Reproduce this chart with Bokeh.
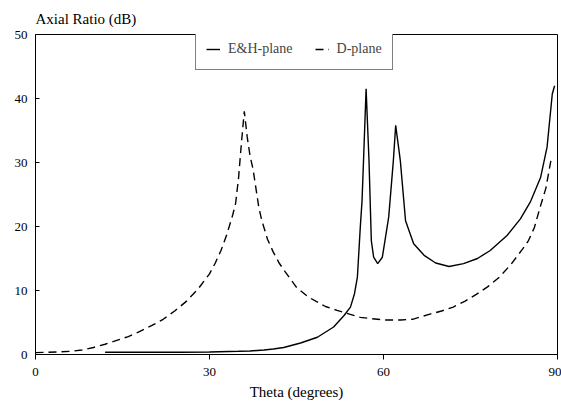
from bokeh.plotting import figure
from bokeh.models import Legend, LegendItem, Title, FixedTicker, Range1d
from bokeh.embed import file_html
from bokeh.resources import INLINE

# E&H-plane (solid)
eh_theta = [12, 15, 20, 25, 30, 35, 37, 39.4, 41, 42.8, 45.7, 48.6, 51.4, 53.2, 54.3, 55.0, 55.5, 56.0, 56.3, 56.6, 57.0,
            57.5, 57.9, 58.3, 59.0, 59.8, 60.9, 61.7, 62.1, 62.9, 63.8, 65.2, 67.0, 69.0, 71.3, 73.8, 76.2, 78.4,
            81.3, 83.6, 85.3, 87.1, 88.2, 89.1, 89.5]
eh_value = [0.35, 0.35, 0.35, 0.35, 0.4, 0.5, 0.55, 0.7, 0.85, 1.1, 1.8, 2.7, 4.3, 6.1, 7.4, 9.5, 12.1, 19.9, 24.0, 31.4, 41.5,
            30.3, 17.8, 15.2, 14.2, 15.2, 21.5, 30.3, 35.8, 30.3, 20.9, 17.3, 15.5, 14.3, 13.75, 14.2, 15.0, 16.25,
            18.6, 21.2, 23.8, 27.7, 32.4, 40.7, 42.0]

# D-plane (dashed)
d_theta = [0, 2, 4, 6, 8, 10, 12, 14, 16, 18, 20, 22, 24, 26, 28, 30, 31, 32, 33, 34, 34.5, 35, 35.5, 36,
           36.5, 37, 37.5, 38, 38.5, 39, 40, 41, 42, 43, 45, 47, 50, 52, 56, 60, 63, 65, 68, 70, 72, 74, 76,
           78, 80, 82, 84, 85, 86, 87, 88, 88.5, 89]
d_value = [0.3, 0.35, 0.4, 0.5, 0.7, 1.1, 1.6, 2.2, 2.8, 3.6, 4.5, 5.5, 6.8, 8.3, 10.2, 12.6, 14.3, 16.3, 18.8, 21.8, 23.6, 27.5, 33.0, 38.0,
           34.0, 31.0, 29.0, 26.0, 23.0, 21.0, 18.0, 16.0, 14.3, 13.0, 10.5, 9.0, 7.5, 6.9, 5.8, 5.4, 5.4, 5.5, 6.3, 6.8, 7.4, 8.3, 9.4,
           10.6, 12.1, 14.1, 16.5, 17.8, 19.8, 23.0, 26.0, 28.5, 31.0]

x_ticks = [0, 30, 60, 90]
y_ticks = [0, 10, 20, 30, 40, 50]
FONT = "Liberation Serif"

p = figure(width=561, height=412, output_backend="svg", toolbar_location=None,
           x_range=Range1d(0, 90), y_range=Range1d(0, 50),
           min_border_left=35, min_border_right=4, min_border_top=34, min_border_bottom=58)
p.grid.visible = False
p.outline_line_color = "black"
p.outline_line_width = 1
p.background_fill_color = "white"
p.border_fill_color = "white"

r1 = p.line(eh_theta, eh_value, line_color="black", line_width=1.4)
r2 = p.line(d_theta, d_value, line_color="black", line_width=1.4, line_dash="8 5")

for ax in (p.xaxis[0], p.yaxis[0]):
    ax.axis_line_color = "black"
    ax.major_tick_line_color = "black"
    ax.minor_tick_line_color = None
    ax.major_label_text_font = FONT
    ax.major_label_text_font_size = "13px"
    ax.major_label_text_color = "black"

p.xaxis.ticker = FixedTicker(ticks=x_ticks)
p.yaxis.ticker = FixedTicker(ticks=y_ticks)
p.xaxis.major_tick_out = 5
p.xaxis.major_tick_in = 0
p.xaxis.major_label_standoff = 8
p.xaxis.axis_label = "Theta (degrees)"
p.xaxis.axis_label_text_font = FONT
p.xaxis.axis_label_text_font_size = "15px"
p.xaxis.axis_label_text_font_style = "normal"
p.xaxis.axis_label_text_color = "black"
p.xaxis.axis_label_standoff = 5
p.yaxis.major_tick_out = 0
p.yaxis.major_tick_in = 4
p.yaxis.major_label_standoff = 8

p.add_layout(Title(text="Axial Ratio (dB)", align="left", text_font=FONT, text_font_size="15px",
                   text_font_style="normal", text_color="black", standoff=16, offset=0), "above")

legend = Legend(items=[LegendItem(label="E&H-plane", renderers=[r1]),
                       LegendItem(label="D-plane", renderers=[r2])],
                location=(160, 284), orientation="horizontal", margin=0, padding=10,
                spacing=22, glyph_width=14, glyph_height=20, label_height=20,
                label_standoff=8, label_text_font=FONT, label_text_font_size="14px",
                border_line_color="black", border_line_width=1.2,
                background_fill_color="white", background_fill_alpha=1.0)
p.add_layout(legend)

open("out.html", "w").write(file_html(p, INLINE))
